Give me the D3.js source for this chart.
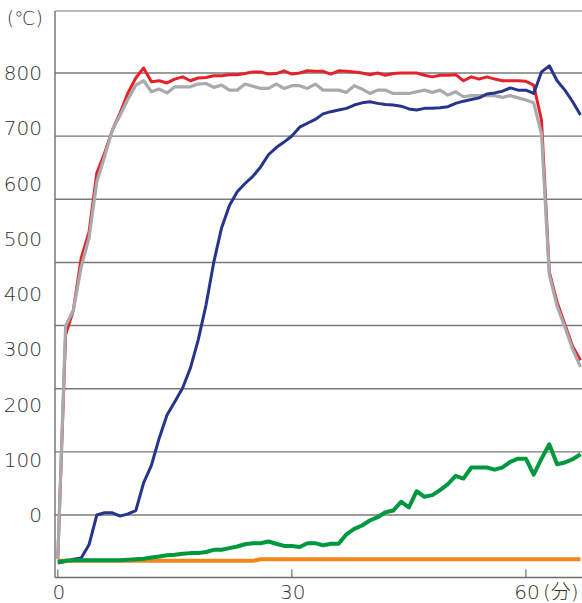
<!DOCTYPE html>
<html>
<head>
<meta charset="utf-8">
<script src="https://cdn.jsdelivr.net/npm/d3@7"></script>
<style>
  body { margin: 0; background: #fff; }
  text { font-family: "DejaVu Sans", "Noto Sans CJK JP", sans-serif; font-weight: 200; fill: #333; }
</style>
</head>
<body>
<svg id="chart" width="582" height="603"></svg>
<script>
// minutes 0..67, one reading per minute
const minutes = d3.range(0, 68);

const redTemp = [-78, 326, 371, 465, 512, 619, 655, 697, 728, 764,
  791, 809, 784, 786, 782, 789, 793, 786, 791, 792,
  795, 795, 797, 797, 799, 802, 802, 798, 799, 804,
  798, 800, 804, 803, 803, 798, 804, 803, 802, 800,
  797, 800, 796, 799, 800, 800, 800, 796, 793, 796,
  796, 797, 786, 793, 789, 793, 789, 786, 786, 786,
  785, 778, 715, 440, 385, 345, 305, 280];

const grayTemp = [-80, 342, 371, 449, 501, 603, 649, 697, 724, 753,
  778, 786, 766, 771, 764, 775, 775, 775, 780, 781,
  774, 778, 769, 769, 780, 776, 772, 772, 780, 772,
  777, 777, 772, 780, 769, 769, 769, 765, 777, 771,
  763, 769, 769, 763, 763, 763, 766, 769, 765, 769,
  760, 766, 757, 759, 759, 759, 759, 756, 759, 755,
  751, 746, 690, 435, 378, 340, 300, 268];

const blueTemp = [-87, -84, -80, -78, -54, 0, 4, 4, -2, 2,
  8, 58, 90, 139, 181, 205, 230, 266, 317, 380,
  458, 520, 560, 585, 600, 613, 630, 652, 665, 675,
  686, 702, 709, 716, 726, 730, 733, 736, 742, 746,
  748, 745, 743, 742, 740, 735, 733, 736, 736, 737,
  739, 745, 749, 752, 755, 762, 764, 767, 773, 769,
  769, 763, 802, 813, 786, 769, 748, 724];

const greenTemp = [-85, -83, -82, -82, -82, -82, -82, -82, -82, -81,
  -80, -79, -77, -75, -73, -72, -70, -69, -69, -67,
  -63, -63, -60, -57, -53, -51, -51, -48, -52, -56,
  -56, -58, -51, -51, -55, -52, -52, -35, -25, -19,
  -10, -4, 5, 8, 24, 14, 43, 33, 36, 45,
  56, 71, 66, 86, 86, 86, 82, 86, 96, 102,
  102, 73, 102, 128, 92, 95, 101, 110];

const orangeTemp = [-83, -83, -83, -83, -83, -83, -83, -83, -83, -83,
  -83, -83, -83, -83, -83, -83, -83, -83, -83, -83,
  -83, -83, -83, -83, -83, -83, -80, -80, -80, -80,
  -80, -80, -80, -80, -80, -80, -80, -80, -80, -80,
  -80, -80, -80, -80, -80, -80, -80, -80, -80, -80,
  -80, -80, -80, -80, -80, -80, -80, -80, -80, -80,
  -80, -80, -80, -80, -80, -80, -80, -80];

const yTickLabels = [0, 100, 200, 300, 400, 500, 600, 700, 800];
const xTickLabels = [0, 30, 60];
// the horizontal rules split 0..800 into seven bands
const gridValues = d3.range(0, 8).map(i => 800 * i / 7);

const svg = d3.select("#chart");
const plotLeft = 55, plotRight = 582, plotTop = 11, plotBottom = 577.5;

const x = d3.scaleLinear().domain([0, 67]).range([57.8, 580.5]);
const y = d3.scaleLinear().domain([0, 800]).range([515, 73]);

// grid
svg.append("g")
  .selectAll("line")
  .data(gridValues)
  .enter()
  .append("line")
  .attr("x1", plotLeft).attr("x2", plotRight)
  .attr("y1", d => y(d)).attr("y2", d => y(d))
  .attr("stroke", "#7a7a7a")
  .attr("stroke-width", 1.4);

// frame
svg.append("line")
  .attr("x1", plotLeft).attr("x2", plotRight).attr("y1", plotTop).attr("y2", plotTop)
  .attr("stroke", "#7a7a7a").attr("stroke-width", 1.2);
svg.append("line")
  .attr("x1", plotLeft).attr("x2", plotLeft).attr("y1", plotTop).attr("y2", plotBottom)
  .attr("stroke", "#6e6e6e").attr("stroke-width", 1.4);
svg.append("line")
  .attr("x1", plotLeft).attr("x2", plotRight).attr("y1", plotBottom).attr("y2", plotBottom)
  .attr("stroke", "#6e6e6e").attr("stroke-width", 1.4);

// x ticks
svg.append("g")
  .selectAll("line")
  .data(xTickLabels)
  .enter()
  .append("line")
  .attr("x1", d => x(d)).attr("x2", d => x(d))
  .attr("y1", plotBottom - 8).attr("y2", plotBottom)
  .attr("stroke", "#6e6e6e").attr("stroke-width", 1.2);

svg.append("g")
  .selectAll("text")
  .data(xTickLabels)
  .enter()
  .append("text")
  .attr("x", d => x(d) + 1)
  .attr("y", 599)
  .attr("text-anchor", "middle")
  .style("font-size", "20px")
  .text(d => d);

svg.append("text")
  .attr("x", 543).attr("y", 599)
  .style("font-size", "20px")
  .text("(分)");

// y labels
svg.append("g")
  .selectAll("text")
  .data(yTickLabels)
  .enter()
  .append("text")
  .attr("x", 42)
  .attr("y", d => y(d) + 7)
  .attr("text-anchor", "end")
  .style("font-size", "20px")
  .text(d => d);

svg.append("text")
  .attr("x", 43).attr("y", 25)
  .attr("text-anchor", "end")
  .style("font-size", "19px")
  .text("(℃)");

// series
const line = d3.line()
  .x((d, i) => x(minutes[i]))
  .y(d => y(d));

const series = [
  { values: redTemp, color: "#e62129", width: 3 },
  { values: grayTemp, color: "#a8aaad", width: 3.2 },
  { values: blueTemp, color: "#27348b", width: 3 },
  { values: orangeTemp, color: "#ee861c", width: 4 },
  { values: greenTemp, color: "#00983f", width: 4 }
];

svg.append("g")
  .selectAll("path")
  .data(series)
  .enter()
  .append("path")
  .attr("d", d => line(d.values))
  .attr("fill", "none")
  .attr("stroke", d => d.color)
  .attr("stroke-width", d => d.width)
  .attr("stroke-linejoin", "round");
</script>
</body>
</html>
